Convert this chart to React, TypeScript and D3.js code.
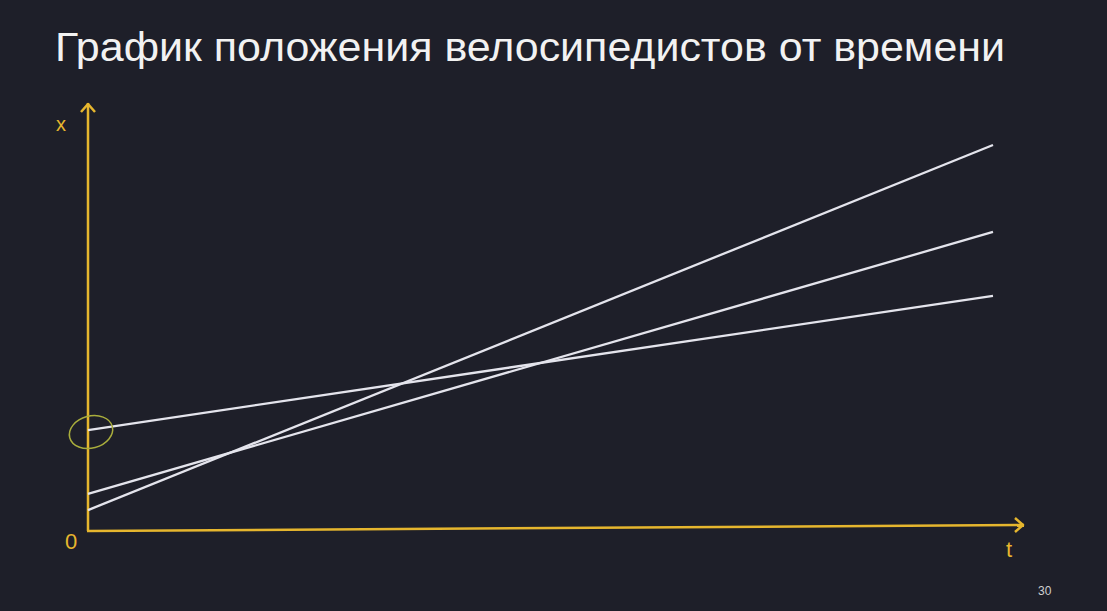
import { useEffect, useRef } from 'react'
import * as d3 from 'd3'

const title = 'График положения велосипедистов от времени'
const times = [0, 10]
const cyclistA = [0.49, 9.06]
const cyclistB = [0.87, 7.02]
const cyclistC = [2.37, 5.52]
const series = [cyclistA, cyclistB, cyclistC]
const pageNumber = '30'

export default function App() {
  const svgRef = useRef<SVGSVGElement>(null)

  useEffect(() => {
    if (!svgRef.current) return
    const svg = d3.select(svgRef.current)
    svg.selectAll('*').remove()

    const width = 1107
    const height = 611
    const axisColor = '#e6b62e'
    const lineColor = '#e4e4ec'

    svg.attr('width', width).attr('height', height)
    svg.append('rect').attr('width', width).attr('height', height).attr('fill', '#1e1f29')

    const xScale = d3.scaleLinear().domain([0, 10]).range([88, 993])
    const yScale = d3.scaleLinear().domain([0, 10]).range([531, 105])

    // title
    svg.append('text')
      .attr('x', 55)
      .attr('y', 61)
      .attr('textLength', 950)
      .attr('lengthAdjust', 'spacingAndGlyphs')
      .style('font-family', '"Liberation Sans", Arial, sans-serif')
      .style('font-size', '40px')
      .style('fill', '#f2f2f2')
      .text(title)

    // axes
    const x0 = xScale(0)
    const y0 = yScale(0)
    const yTop = 103
    const xEnd = 1024
    const xEndY = 525
    svg.append('line')
      .attr('x1', x0).attr('y1', y0).attr('x2', x0).attr('y2', yTop)
      .attr('stroke', axisColor).attr('stroke-width', 2.5)
    svg.append('path')
      .attr('d', `M${x0 - 7},${yTop + 9} L${x0},${yTop + 1} L${x0 + 7},${yTop + 9}`)
      .attr('fill', 'none').attr('stroke', axisColor).attr('stroke-width', 2.5)
      .attr('stroke-linejoin', 'round')
    svg.append('line')
      .attr('x1', x0 - 1).attr('y1', y0).attr('x2', xEnd).attr('y2', xEndY)
      .attr('stroke', axisColor).attr('stroke-width', 2.5)
    svg.append('path')
      .attr('d', `M${xEnd - 9},${xEndY - 7} L${xEnd - 1},${xEndY} L${xEnd - 9},${xEndY + 7}`)
      .attr('fill', 'none').attr('stroke', axisColor).attr('stroke-width', 2.5)
      .attr('stroke-linejoin', 'round')

    const labelStyle = (t: d3.Selection<SVGTextElement, unknown, null, undefined>, size: number) =>
      t.style('font-family', '"Liberation Sans", Arial, sans-serif')
        .style('font-size', `${size}px`)
        .style('fill', axisColor)

    labelStyle(svg.append('text').attr('x', 56).attr('y', 131).text('x'), 20)
    labelStyle(svg.append('text').attr('x', 65).attr('y', 549).text('0'), 22)
    labelStyle(svg.append('text').attr('x', 1006).attr('y', 557).text('t'), 22)

    // position lines
    const line = d3.line<number>()
      .x((_, i) => xScale(times[i]))
      .y(d => yScale(d))

    series.forEach(s => {
      svg.append('path')
        .attr('d', line(s))
        .attr('fill', 'none')
        .attr('stroke', lineColor)
        .attr('stroke-width', 2.3)
    })

    // highlight of the starting point
    svg.append('ellipse')
      .attr('cx', 91)
      .attr('cy', yScale(cyclistC[0]) + 2)
      .attr('rx', 22)
      .attr('ry', 16)
      .attr('transform', `rotate(-15, 91, ${yScale(cyclistC[0]) + 2})`)
      .attr('fill', 'none')
      .attr('stroke', '#a9ad3c')
      .attr('stroke-width', 1.5)

    svg.append('text')
      .attr('x', 1038)
      .attr('y', 595)
      .style('font-family', '"Liberation Sans", Arial, sans-serif')
      .style('font-size', '12px')
      .style('fill', '#cfcfcf')
      .text(pageNumber)
  }, [])

  return <svg ref={svgRef} style={{ position: 'absolute', left: 0, top: 0, display: 'block' }} />
}
